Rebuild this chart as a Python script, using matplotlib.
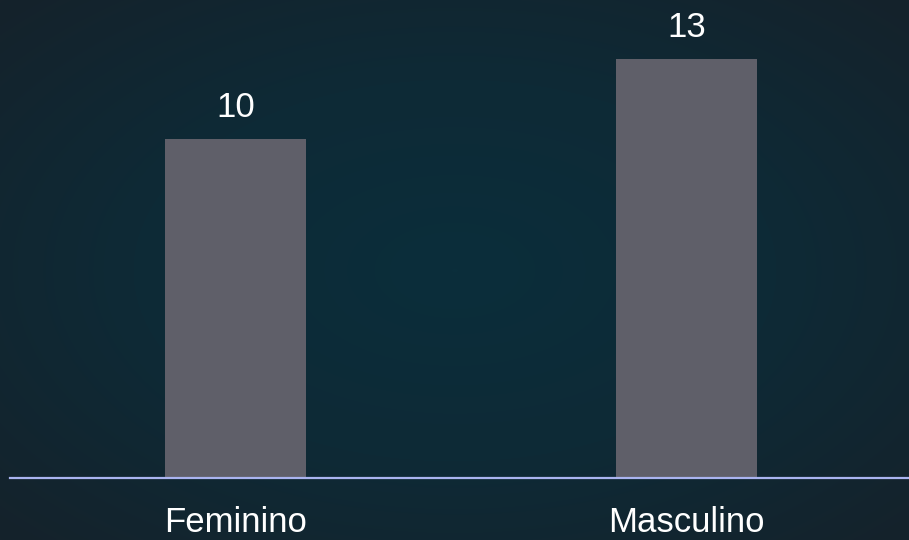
import numpy as np
import matplotlib
matplotlib.use("Agg")
import matplotlib.pyplot as plt
from matplotlib.colors import LinearSegmentedColormap

plt.rcParams['font.family'] = ['Liberation Sans', 'DejaVu Sans']

# données
categorias = ["Feminino", "Masculino"]
valores = [10, 13]

W, H = 909, 540
fig = plt.figure(figsize=(W / 100, H / 100), dpi=100)

# fond en dégradé radial
bg = fig.add_axes([0, 0, 1, 1])
yy, xx = np.mgrid[0:H, 0:W]
r = np.sqrt(((xx - W / 2) / (W / 2)) ** 2 + ((yy - H / 2) / (H / 2)) ** 2) / np.sqrt(2)
cmap_bg = LinearSegmentedColormap.from_list("bg", ["#0b2e3b", "#0e2a36", "#15222b"])
bg.imshow(r, cmap=cmap_bg, aspect="auto", extent=[0, 1, 0, 1], vmin=0, vmax=1)
bg.axis("off")

# zone du graphique (ligne de base à y=478 px)
base = -2.71
top = 15.21
ax = fig.add_axes([10 / W, 62 / H, 902 / W, 478 / H])
ax.set_facecolor("none")
x = np.arange(len(categorias))
alturas = [v - base for v in valores]
ax.bar(x, alturas, bottom=base, width=0.313, color="#5f5f69", zorder=2)
ax.set_xlim(-0.5, 1.5)
ax.set_ylim(base, top)

for xi, v in zip(x, valores):
    ax.annotate(str(v), (xi, v), xytext=(0, 10.5), textcoords="offset points",
                ha="center", va="bottom", color="white", fontsize=25)

ax.axhline(base, color="#aab4f0", linewidth=1.6, zorder=3, clip_on=False)

for s in ax.spines.values():
    s.set_visible(False)
ax.set_yticks([])
ax.set_xticks(x)
ax.set_xticklabels(categorias, color="white", fontsize=25)
ax.tick_params(axis="x", length=0, pad=20)
ax.set_xlim(-0.5, 1.5)

fig.savefig("out.png", dpi=100)
